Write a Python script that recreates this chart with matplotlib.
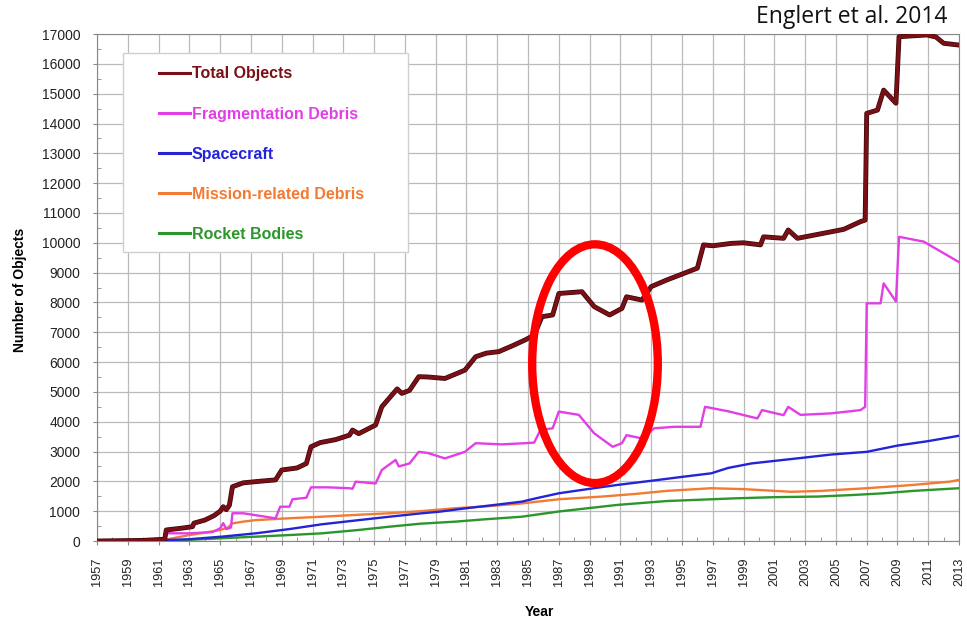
import matplotlib
matplotlib.use("Agg")
import matplotlib.pyplot as plt
import matplotlib.patheffects as pe
from matplotlib.patches import Ellipse, Rectangle
from matplotlib.ticker import MultipleLocator

# values (year, number of catalogued objects)
total_years = [1957.0, 1960.0, 1961.4, 1961.5, 1962.5, 1963.2, 1963.3, 1964.0, 1964.6, 1965.0,
               1965.2, 1965.4, 1965.6, 1965.8, 1966.5, 1967.5, 1968.6, 1969.0, 1970.0, 1970.6,
               1970.9, 1971.5, 1972.5, 1973.4, 1973.6, 1974.0, 1975.1, 1975.5, 1976.0, 1976.5,
               1976.8, 1977.3, 1977.9, 1978.5, 1979.6, 1980.3, 1980.9, 1981.6, 1982.3, 1983.1,
               1984.0, 1984.8, 1985.4, 1985.9, 1986.6, 1987.0, 1988.5, 1989.3, 1990.3, 1991.1,
               1991.4, 1992.4, 1993.0, 1994.0, 1995.0, 1996.0, 1996.4, 1997.0, 1998.2, 1999.0,
               2000.1, 2000.3, 2001.6, 2001.9, 2002.5, 2003.5, 2004.7, 2005.5, 2006.6, 2006.9,
               2007.0, 2007.7, 2008.1, 2008.9, 2009.1, 2010.9, 2011.5, 2012.0, 2013.0]
total_vals = [0, 20, 60, 370, 430, 480, 600, 700, 850, 1000,
              1150, 1050, 1200, 1820, 1950, 2000, 2050, 2380, 2450, 2600,
              3160, 3300, 3400, 3550, 3720, 3600, 3890, 4500, 4800, 5100,
              4950, 5050, 5510, 5500, 5450, 5600, 5730, 6180, 6300, 6350,
              6550, 6740, 6900, 7520, 7580, 8300, 8360, 7860, 7580, 7800,
              8190, 8080, 8530, 8750, 8950, 9150, 9930, 9900, 9980, 10000,
              9930, 10200, 10150, 10430, 10150, 10250, 10370, 10450, 10710, 10760,
              14340, 14450, 15120, 14680, 16910, 16970, 16900, 16690, 16630]

frag_years = [1957.0, 1961.4, 1961.5, 1963.0, 1964.5, 1965.0, 1965.2, 1965.4, 1965.7, 1965.8,
              1966.5, 1967.5, 1968.6, 1968.9, 1969.5, 1969.7, 1970.6, 1970.9, 1972.0, 1973.4,
              1973.6, 1973.8, 1975.1, 1975.5, 1976.4, 1976.6, 1977.3, 1977.9, 1978.5, 1979.6,
              1980.9, 1981.6, 1983.3, 1984.8, 1985.4, 1985.8, 1986.6, 1987.0, 1988.3, 1989.3,
              1990.5, 1991.1, 1991.4, 1992.4, 1993.2, 1994.5, 1996.2, 1996.5, 1998.0, 1999.9,
              2000.2, 2001.6, 2001.9, 2002.7, 2004.7, 2006.6, 2006.9, 2007.0, 2007.9, 2008.1,
              2008.9, 2009.1, 2010.7, 2013.0]
frag_vals = [0, 30, 260, 257, 300, 425, 600, 400, 450, 930,
             930, 850, 760, 1150, 1150, 1400, 1450, 1800, 1800, 1770,
             1750, 1990, 1930, 2380, 2720, 2500, 2600, 2990, 2950, 2770,
             2990, 3280, 3240, 3280, 3300, 3720, 3780, 4340, 4230, 3610,
             3160, 3280, 3550, 3440, 3780, 3830, 3830, 4500, 4350, 4110,
             4390, 4220, 4500, 4230, 4280, 4390, 4500, 7970, 7970, 8640,
             8030, 10200, 10040, 9350]

sc_years = [1957, 1958, 1960, 1962, 1963, 1965.2, 1967.3, 1969.5, 1971.6, 1974,
            1976, 1978.1, 1979.2, 1981, 1983, 1984.6, 1985.5, 1987, 1989, 1990.8,
            1993.4, 1995, 1996.9, 1998, 1999.5, 2001.6, 2003, 2004.7, 2007, 2009,
            2011, 2013]
sc_vals = [0, 5, 20, 40, 60, 150, 257, 400, 560, 700,
           815, 930, 980, 1100, 1220, 1320, 1430, 1600, 1750, 1880,
           2045, 2150, 2270, 2450, 2600, 2720, 2800, 2900, 2990, 3200,
           3350, 3530]

mrd_years = [1957, 1961.5, 1962.5, 1963, 1964, 1965, 1965.5, 1965.8, 1966.5, 1967.3,
             1969, 1971.6, 1974, 1976, 1978, 1980.3, 1982, 1984.6, 1987, 1989.8,
             1992, 1994, 1996.9, 1999, 2002.1, 2004, 2007, 2010, 2012.4, 2013]
mrd_vals = [0, 50, 150, 200, 280, 370, 450, 590, 650, 700,
            750, 815, 880, 930, 1000, 1100, 1150, 1260, 1400, 1490,
            1580, 1680, 1770, 1740, 1650, 1680, 1770, 1880, 1990, 2050]

rb_years = [1957, 1960, 1963, 1965, 1967.3, 1969.5, 1971.6, 1974, 1976, 1978,
            1980.3, 1982, 1984.6, 1987, 1990.8, 1994, 1998.4, 2001, 2003.8, 2006,
            2008.1, 2010, 2013]
rb_vals = [0, 10, 40, 90, 145, 200, 257, 370, 480, 580,
           650, 720, 815, 990, 1210, 1340, 1430, 1470, 1490, 1540,
           1600, 1680, 1770]

plt.rcParams['font.family'] = ['Liberation Sans', 'DejaVu Sans']

fig = plt.figure(figsize=(9.67, 6.19), dpi=100)
ax = fig.add_axes([0.1003, 0.126, 0.8915, 0.819])

c_total = '#7a1016'
c_frag = '#e23ee6'
c_sc = '#2424d6'
c_mrd = '#f27a32'
c_rb = '#2c962c'

ax.plot(rb_years, rb_vals, color=c_rb, lw=1.7, label='Rocket Bodies', zorder=3)
ax.plot(mrd_years, mrd_vals, color=c_mrd, lw=1.7, label='Mission-related Debris', zorder=3)
ax.plot(sc_years, sc_vals, color=c_sc, lw=1.7, label='Spacecraft', zorder=3)
ax.plot(frag_years, frag_vals, color=c_frag, lw=1.7, label='Fragmentation Debris', zorder=4)
ax.plot(total_years, total_vals, color=c_total, lw=2.5, label='Total Objects', zorder=5,
        path_effects=[pe.Stroke(linewidth=3.5, foreground='#3a0608'), pe.Normal()])

ax.set_xlim(1957, 2013)
ax.set_ylim(0, 17000)
ax.set_xticks(range(1957, 2014, 2))
ax.xaxis.set_minor_locator(MultipleLocator(1))
ax.set_yticks(range(0, 17001, 1000))
ax.yaxis.set_minor_locator(MultipleLocator(500))
ax.tick_params(which='major', length=3, color='#888888', labelsize=10,
               labelcolor='#222222', pad=9)
ax.tick_params(axis='x', labelrotation=90, labelsize=9.2)
ax.tick_params(which='minor', length=3, direction='in', color='#888888')
ax.grid(True, which='major', color='#bbbbbb', lw=0.9, zorder=0)
ax.set_axisbelow(True)
for s in ax.spines.values():
    s.set_color('#888888')

ax.set_xlabel('Year', fontsize=10, fontweight='bold')
ax.xaxis.set_label_coords(0.513, -0.126)
ax.set_ylabel('Number of Objects', fontsize=10, fontweight='bold')
ax.yaxis.set_label_coords(-0.081, 0.495)

# legend box and entries
ax.add_patch(Rectangle((0.030, 0.570), 0.3306, 0.3925, transform=ax.transAxes,
                       facecolor='white', edgecolor='#d0d0d0', lw=1, zorder=6))
h, l = ax.get_legend_handles_labels()
leg = ax.legend(h[::-1], l[::-1], loc='upper left', bbox_to_anchor=(0.0717, 0.936),
                frameon=False, borderpad=0, borderaxespad=0, handlelength=1.95,
                handletextpad=0.1, labelspacing=1.57, labelcolor='linecolor',
                prop={'weight': 'bold', 'size': 11.5})
leg.set_zorder(7)
for line in leg.get_lines():
    line.set_linewidth(2.2)
    line.set_path_effects([])

ax.add_patch(Ellipse((1989.35, 5946), width=8.16, height=8005, fill=False,
                     edgecolor='#ff0000', lw=6, zorder=8))

fig.text(0.980, 0.9725, 'Englert et al. 2014', ha='right', va='center',
         fontsize=16.5, family=['Open Sans', 'DejaVu Sans'], color='#111111')

fig.savefig('out.png', dpi=100)
